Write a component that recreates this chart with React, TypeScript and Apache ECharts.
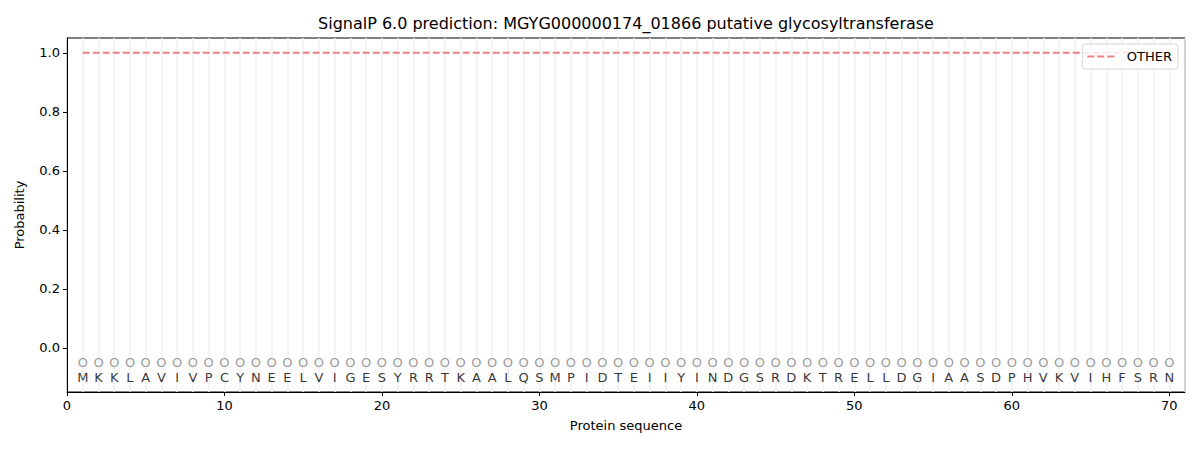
import React, { useEffect, useRef } from 'react';
import * as echarts from 'echarts';

// residue sequence and per-position predicted label
const sequence = 'MKKLAVIVPCYNEELVIGESYRRTKAALQSMPIDTEIIYINDGSRDKTRELLDGIAASDPHVKVIHFSRN'.split('');
const predLabels = 'OOOOOOOOOOOOOOOOOOOOOOOOOOOOOOOOOOOOOOOOOOOOOOOOOOOOOOOOOOOOOOOOOOOOOO'.split('');
const otherProb = [
  1, 1, 1, 1, 1, 1, 1, 1, 1, 1,
  1, 1, 1, 1, 1, 1, 1, 1, 1, 1,
  1, 1, 1, 1, 1, 1, 1, 1, 1, 1,
  1, 1, 1, 1, 1, 1, 1, 1, 1, 1,
  1, 1, 1, 1, 1, 1, 1, 1, 1, 1,
  1, 1, 1, 1, 1, 1, 1, 1, 1, 1,
  1, 1, 1, 1, 1, 1, 1, 1, 1, 1,
];
const xTicks = [0, 10, 20, 30, 40, 50, 60, 70];
const yTicks = [0, 0.2, 0.4, 0.6, 0.8, 1.0];

const FONT = 'DejaVu Sans';

const App: React.FC = () => {
  const chartRef = useRef<HTMLDivElement>(null);

  useEffect(() => {
    if (!chartRef.current) return;
    const myChart = echarts.init(chartRef.current, undefined, { renderer: 'svg' });

    const option: any = {
      animation: false,
      textStyle: { fontFamily: FONT },
      graphic: [
        {
          type: 'text',
          x: 626,
          y: 23,
          style: {
            text: 'SignalP 6.0 prediction: MGYG000000174_01866 putative glycosyltransferase',
            fontFamily: FONT,
            fontSize: 16,
            fill: '#000',
            textAlign: 'center',
            textVerticalAlign: 'middle',
          },
        },
      ],
      legend: {
        right: 22,
        top: 44,
        orient: 'vertical',
        data: [
          {
            name: 'OTHER',
            icon: 'path://M0,0 L7,0 L7,2 L0,2 Z M10,0 L17,0 L17,2 L10,2 Z M20,0 L27,0 L27,2 L20,2 Z',
          },
        ],
        itemWidth: 28,
        itemHeight: 2,
        itemGap: 4,
        padding: [6, 6, 6, 5],
        borderColor: '#d5d5d5',
        borderWidth: 1,
        borderRadius: 3,
        backgroundColor: 'rgba(255,255,255,0.8)',
        itemStyle: { color: '#f08080' },
        textStyle: { fontFamily: FONT, fontSize: 13, color: '#000', lineHeight: 13, padding: [0, 0, 0, 7] },
      },
      grid: {
        left: 67,
        right: 15,
        top: 38,
        bottom: 58,
        show: true,
        borderColor: '#000',
        borderWidth: 1,
        backgroundColor: 'transparent',
      },
      xAxis: [
        {
          type: 'value',
          min: 0,
          max: 71,
          name: 'Protein sequence',
          nameLocation: 'middle',
          nameGap: 27,
          nameTextStyle: { fontFamily: FONT, fontSize: 13, color: '#000' },
          axisLine: { show: true, onZero: false, lineStyle: { color: '#000', width: 1 } },
          axisTick: { show: true, length: 4, customValues: xTicks, lineStyle: { color: '#000' } },
          axisLabel: { customValues: xTicks, fontFamily: FONT, fontSize: 13, color: '#000', margin: 7 },
          splitLine: { show: false },
        },
        {
          type: 'value',
          min: 0,
          max: 71,
          interval: 1,
          position: 'top',
          axisLine: { show: false },
          axisTick: { show: false },
          axisLabel: { show: false },
          splitLine: { show: true, lineStyle: { color: '#f0f0f0', width: 1.5 } },
        },
      ],
      yAxis: {
        type: 'value',
        min: -0.15,
        max: 1.05,
        name: 'Probability',
        nameLocation: 'middle',
        nameGap: 41,
        nameTextStyle: { fontFamily: FONT, fontSize: 13, color: '#000' },
        axisLine: { show: true, onZero: false, lineStyle: { color: '#000', width: 1 } },
        axisTick: { show: true, length: 4, customValues: yTicks, lineStyle: { color: '#000' } },
        axisLabel: {
          customValues: yTicks,
          fontFamily: FONT,
          fontSize: 13,
          color: '#000',
          margin: 7,
          formatter: (v: number) => v.toFixed(1),
        },
        splitLine: { show: false },
      },
      series: [
        {
          name: 'OTHER',
          type: 'line',
          data: otherProb.map((p, i) => [i + 1, p]),
          symbol: 'none',
          color: '#f08080',
          lineStyle: { color: '#f08080', width: 2, type: [7, 3] },
          z: 3,
        },
        {
          name: 'labels',
          type: 'scatter',
          data: predLabels.map((l, i) => [i + 1, -0.05, l]),
          symbolSize: 1,
          itemStyle: { color: 'transparent' },
          label: {
            show: true,
            position: 'inside',
            formatter: (p: any) => p.data[2],
            fontFamily: FONT,
            fontSize: 13,
            color: '#808080',
          },
          silent: true,
        },
        {
          name: 'sequence',
          type: 'scatter',
          data: sequence.map((aa, i) => [i + 1, -0.1, aa]),
          symbolSize: 1,
          itemStyle: { color: 'transparent' },
          label: {
            show: true,
            position: 'inside',
            formatter: (p: any) => p.data[2],
            fontFamily: FONT,
            fontSize: 13,
            color: '#000',
          },
          silent: true,
        },
      ],
    };

    myChart.setOption(option);

    return () => {
      myChart.dispose();
    };
  }, []);

  return (
    <div
      ref={chartRef}
      style={{ position: 'fixed', left: 0, top: 0, width: '1200px', height: '450px', background: '#fff' }}
    ></div>
  );
};

export default App;
